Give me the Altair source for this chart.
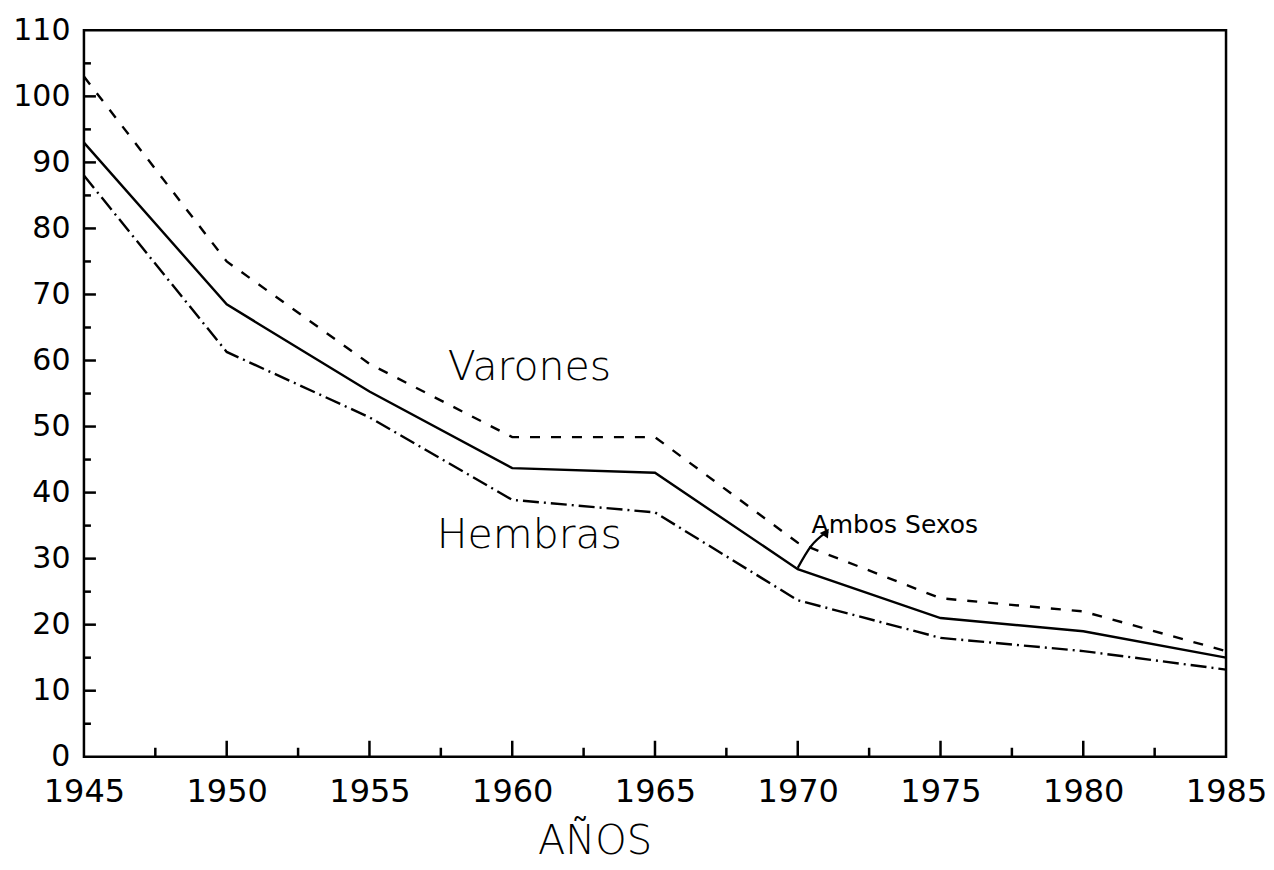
import altair as alt
import pandas as pd

years = [1945, 1950, 1955, 1960, 1965, 1970, 1975, 1980, 1985]
varones = [103, 75, 59.5, 48.4, 48.4, 32.4, 24, 22, 16]
ambos = [93, 68.5, 55.3, 43.7, 43, 28.4, 21, 19, 15]
hembras = [88, 61.3, 51.4, 38.9, 37, 23.7, 18, 16, 13.2]

y_major = [10, 20, 30, 40, 50, 60, 70, 80, 90, 100]
y_minor = [5, 15, 25, 35, 45, 55, 65, 75, 85, 95, 105]
x_major = [1950, 1955, 1960, 1965, 1970, 1975, 1980]
x_minor = [1947.5, 1952.5, 1957.5, 1962.5, 1967.5, 1972.5, 1977.5, 1982.5]

labels_big = ["Varones", "Hembras"]
labels_big_x = [1960.6, 1960.6]
labels_big_y = [57.0, 31.6]

W, H = 1143, 727
FONT = "DejaVu Sans"

xs = alt.Scale(domain=[1945, 1985], nice=False, zero=False)
ys = alt.Scale(domain=[0, 110], nice=False)

def series_layer(vals, dash):
    df = pd.DataFrame({"year": years, "v": vals})
    enc = dict(
        x=alt.X("year:Q", scale=xs,
                axis=alt.Axis(values=[1945, 1950, 1955, 1960, 1965, 1970, 1975, 1980, 1985],
                              format="d", ticks=False, domain=False, grid=False,
                              labelFontSize=32, labelFont=FONT, labelColor="black",
                              labelPadding=20, labelFlush=False,
                              title="AÑOS", titleFont=FONT, titleFontSize=40,
                              titleFontWeight=300, titleColor="black",
                              titleX=511, titleAlign="center",
                              titleBaseline="alphabetic", titleY=97)),
        y=alt.Y("v:Q", scale=ys,
                axis=alt.Axis(values=list(range(0, 111, 10)), ticks=False, domain=False,
                              grid=False, labelFontSize=30, labelFont=FONT,
                              labelColor="black", labelPadding=14, title=None,
                              labelFlush=False)),
    )
    props = dict(color="black", strokeWidth=2.4)
    if dash:
        props["strokeDash"] = dash
    return alt.Chart(df).mark_line(**props).encode(**enc)

l_var = series_layer(varones, [10, 11])
l_amb = series_layer(ambos, None)
l_hem = series_layer(hembras, [16, 5, 2, 5])

ytick_major = alt.Chart(pd.DataFrame({"v": y_major})).mark_rule(
    color="black", strokeWidth=2.5).encode(
    y=alt.Y("v:Q", scale=ys), x=alt.value(0), x2=alt.value(12))
ytick_minor = alt.Chart(pd.DataFrame({"v": y_minor})).mark_rule(
    color="black", strokeWidth=2.5).encode(
    y=alt.Y("v:Q", scale=ys), x=alt.value(0), x2=alt.value(7))

xtick_major = alt.Chart(pd.DataFrame({"year": x_major})).mark_rule(
    color="black", strokeWidth=2.5).encode(
    x=alt.X("year:Q", scale=xs), y=alt.value(H), y2=alt.value(H - 16))
xtick_minor = alt.Chart(pd.DataFrame({"year": x_minor})).mark_rule(
    color="black", strokeWidth=2.5).encode(
    x=alt.X("year:Q", scale=xs), y=alt.value(H), y2=alt.value(H - 9))

big_text = alt.Chart(pd.DataFrame({"t": labels_big, "year": labels_big_x,
                                   "v": labels_big_y})).mark_text(
    font=FONT, fontSize=41, fontWeight=300, color="black",
    align="center", baseline="alphabetic").encode(
    x=alt.X("year:Q", scale=xs), y=alt.Y("v:Q", scale=ys), text="t:N")

ambos_text = alt.Chart(pd.DataFrame({"t": ["Ambos  Sexos"], "year": [1973.4],
                                     "v": [33.9]})).mark_text(
    font=FONT, fontSize=25, color="black", align="center",
    baseline="alphabetic").encode(
    x=alt.X("year:Q", scale=xs), y=alt.Y("v:Q", scale=ys), text="t:N")

arrow_df = pd.DataFrame({"year": [1970.0, 1970.45, 1971.0], "v": [28.6, 31.8, 34.0]})
arrow_line = alt.Chart(arrow_df).mark_line(color="black", strokeWidth=2.2,
                                           interpolate="monotone").encode(
    x=alt.X("year:Q", scale=xs), y=alt.Y("v:Q", scale=ys))
arrow_head = alt.Chart(pd.DataFrame({"year": [1971.0], "v": [34.0]})).mark_point(
    shape="triangle-up", filled=True, color="black", size=100, angle=35,
    opacity=1).encode(x=alt.X("year:Q", scale=xs), y=alt.Y("v:Q", scale=ys))

chart = alt.layer(
    l_var, l_amb, l_hem, ytick_major, ytick_minor, xtick_major, xtick_minor,
    big_text, ambos_text, arrow_line, arrow_head
).properties(
    width=W, height=H,
    autosize=alt.AutoSizeParams(type="none"),
    padding={"left": 76, "top": 22, "right": 40, "bottom": 108},
).configure(background="white").configure_view(stroke="black", strokeWidth=2.5)

chart.save("out.html", embed_options={"renderer": "svg", "actions": False})
